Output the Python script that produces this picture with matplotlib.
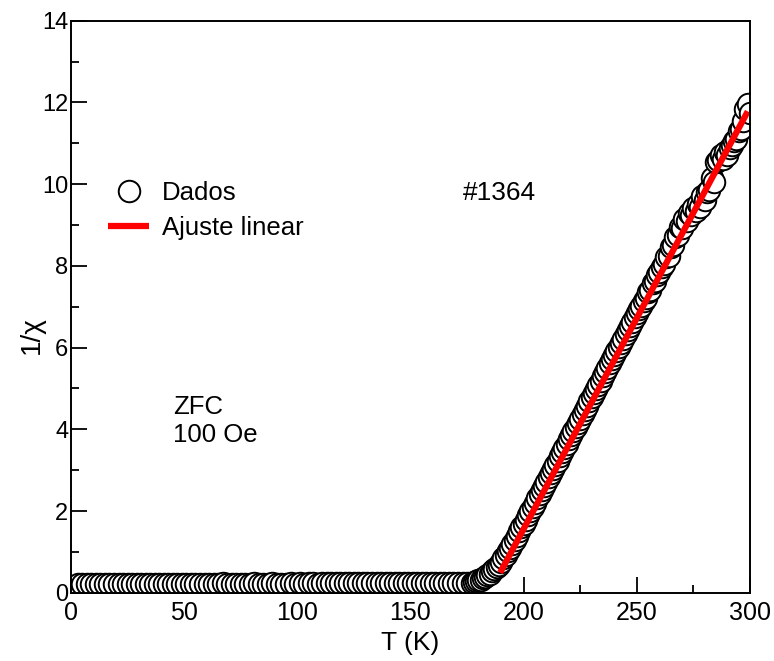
import numpy as np
import matplotlib
matplotlib.use("Agg")
import matplotlib.pyplot as plt

plt.rcParams['font.family'] = ['Liberation Sans', 'DejaVu Sans']

# plateau (ZFC, low T)
T_low = [3, 5, 7, 9, 11, 13, 15, 17, 19, 21, 23, 25, 27, 29, 31, 33, 35, 37, 39, 41,
         43, 45, 47, 49, 51, 53, 55, 57, 59, 61, 63, 65, 67, 69, 71, 73, 75, 77, 79, 81,
         83, 85, 87, 89, 91, 93, 95, 97, 99, 101, 103, 105, 107, 109, 111, 113, 115, 117, 119, 121,
         123, 125, 127, 129, 131, 133, 135, 137, 139, 141, 143, 145, 147, 149, 151, 153, 155, 157, 159, 161,
         163, 165, 167, 169, 171, 173, 175]
y_low = [0.22, 0.22, 0.21, 0.22, 0.22, 0.21, 0.22, 0.22, 0.22, 0.21, 0.22, 0.22, 0.22, 0.22, 0.21, 0.22, 0.22, 0.22, 0.22, 0.22,
         0.22, 0.22, 0.21, 0.22, 0.22, 0.22, 0.22, 0.22, 0.22, 0.22, 0.22, 0.22, 0.23, 0.22, 0.22, 0.22, 0.22, 0.22, 0.22, 0.23,
         0.22, 0.22, 0.22, 0.23, 0.22, 0.22, 0.22, 0.23, 0.22, 0.23, 0.22, 0.23, 0.23, 0.22, 0.23, 0.23, 0.23, 0.23, 0.23, 0.23,
         0.23, 0.23, 0.23, 0.23, 0.23, 0.23, 0.23, 0.24, 0.23, 0.23, 0.24, 0.24, 0.24, 0.24, 0.24, 0.24, 0.24, 0.24, 0.24, 0.24,
         0.24, 0.24, 0.24, 0.25, 0.25, 0.25, 0.25]

# transition + paramagnetic region
T_high = [177, 178, 179, 180, 181, 182, 183, 184, 185, 186, 187, 188, 189, 190, 191, 192, 193, 194, 195, 196,
          197, 198, 199, 200, 201, 202, 203, 204, 205, 206, 207, 208, 209, 210, 211, 212, 213, 214, 215, 216,
          217, 218, 219, 220, 221, 222, 223, 224, 225, 226, 227, 228, 229, 230, 231, 232, 233, 234, 235, 236,
          237, 238, 239, 240, 241, 242, 243, 244, 245, 246, 247, 248, 249, 250, 251, 252, 253, 254, 255, 256,
          257, 258, 259, 260, 261, 262, 263, 264, 265, 266, 267, 268, 269, 270, 271, 272, 273, 274, 275, 276,
          277, 278, 279, 280, 281, 282, 283, 284, 285, 286, 287, 288, 289, 290, 291, 292, 293, 294, 295, 296,
          297, 298, 299, 300]
y_high = [0.25, 0.26, 0.28, 0.30, 0.32, 0.35, 0.39, 0.43, 0.47, 0.52, 0.57, 0.63, 0.69, 0.76, 0.84, 0.92, 1.01, 1.10, 1.20, 1.30,
          1.40, 1.50, 1.60, 1.68, 1.78, 1.89, 1.99, 2.10, 2.20, 2.31, 2.41, 2.51, 2.61, 2.72, 2.82, 2.93, 3.03, 3.13, 3.23, 3.34,
          3.44, 3.54, 3.64, 3.75, 3.85, 3.96, 4.06, 4.16, 4.26, 4.37, 4.47, 4.58, 4.68, 4.78, 4.88, 4.99, 5.09, 5.19, 5.30, 5.40,
          5.50, 5.61, 5.71, 5.81, 5.92, 6.02, 6.12, 6.22, 6.33, 6.43, 6.53, 6.63, 6.74, 6.84, 6.95, 7.02, 7.15, 7.22, 7.36, 7.42,
          7.58, 7.63, 7.78, 7.85, 7.98, 8.05, 8.22, 8.25, 8.45, 8.50, 8.70, 8.75, 8.95, 8.92, 9.15, 9.10, 9.30, 9.25, 9.42, 9.35,
          9.52, 9.45, 9.70, 9.62, 9.80, 9.85, 10.15, 10.05, 10.55, 10.60, 10.72, 10.62, 10.78, 10.72, 10.88, 10.95, 11.05, 11.10, 11.30, 11.35,
          11.55, 11.85, 11.95, 11.75]

# linear fit endpoints
T_fit = [189.6, 299.0]
y_fit = [0.49, 11.78]

T = T_low + T_high
y = y_low + y_high

fig = plt.figure(figsize=(7.74, 6.61), dpi=100)
ax = fig.add_axes([0.0917, 0.1033, 0.8773, 0.8654])

ax.plot(T, y, linestyle='none', marker='o', markersize=15.5, markerfacecolor='white',
        markeredgecolor='black', markeredgewidth=1.4, label='Dados')
ax.plot(T_fit, y_fit, color='#ff0000', linewidth=4.5, solid_capstyle='butt', label='Ajuste linear')

ax.set_xlim(0, 300)
ax.set_ylim(0, 14)
ax.set_xticks([0, 50, 100, 150, 200, 250, 300])
ax.set_xticks([25, 75, 125, 175, 225, 275], minor=True)
ax.set_yticks([0, 2, 4, 6, 8, 10, 12, 14])
ax.set_yticks([1, 3, 5, 7, 9, 11, 13], minor=True)
ax.tick_params(which='both', direction='in', top=False, right=False, width=1.3, labelsize=17)
ax.tick_params(which='major', length=11.5)
ax.tick_params(which='minor', length=6)
ax.tick_params(axis='y', pad=2)
ax.tick_params(axis='x', pad=6, labelsize=18)
for s in ax.spines.values():
    s.set_linewidth(1.4)

ax.set_xlabel('T (K)', fontsize=19, labelpad=4)
ax.set_ylabel('1/χ', fontsize=20)
ax.yaxis.set_label_coords(-0.039, 0.45)

ax.legend(loc='upper left', bbox_to_anchor=(0.055, 0.72), frameon=False, fontsize=18.5,
          handlelength=1.6, handletextpad=0.5, labelspacing=0.42, borderpad=0, borderaxespad=0)

ax.text(173, 9.78, '#1364', fontsize=19, ha='left', va='center')
ax.text(45, 4.2, 'ZFC\n100 Oe', fontsize=18.5, ha='left', va='center', linespacing=1.2)

fig.savefig('out.png', dpi=100)
